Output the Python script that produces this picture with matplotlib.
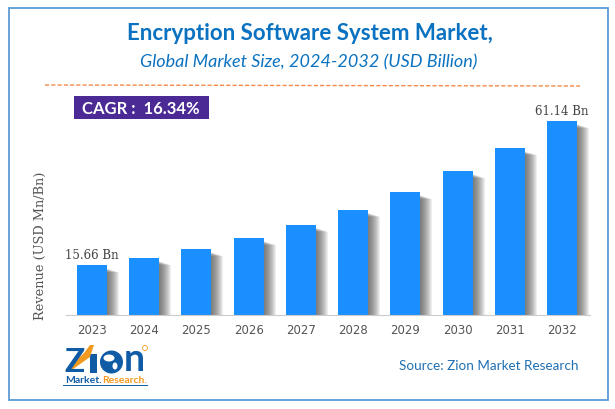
import matplotlib
matplotlib.use('Agg')
import matplotlib.pyplot as plt
from matplotlib.patches import Rectangle, Circle, Polygon, Ellipse

years = ['2023', '2024', '2025', '2026', '2027', '2028', '2029', '2030', '2031', '2032']
revenue = [15.66, 18.0, 20.8, 24.3, 28.5, 33.2, 38.8, 45.4, 52.6, 61.14]
first_label = '15.66 Bn'
last_label = '61.14 Bn'

fig = plt.figure(figsize=(6.15, 4.10), dpi=100)

# overlay in pixel coords for the frame, titles and logo
bg = fig.add_axes([0, 0, 1, 1])
bg.set_xlim(0, 615)
bg.set_ylim(410, 0)
bg.axis('off')

bg.add_patch(Rectangle((8.5, 8.5), 599.5, 392.5, fill=False, ec='#5b9bd5', lw=1.3))
bg.text(310, 34, 'Encryption Software System Market,', color='#0a72c0', fontsize=16,
        fontweight='bold', family='Lato', ha='center', va='center')
bg.text(309, 62, 'Global Market Size, 2024-2032 (USD Billion)', color='#0a72c0', fontsize=13,
        style='italic', family='Lato', ha='center', va='center')
bg.plot([45, 580], [86, 87], color='#f4894a', lw=1, ls=(0, (3, 1.5)))

bg.add_patch(Rectangle((74, 97), 135, 23, color='#4b2a96', lw=0))
bg.text(141, 108.5, 'CAGR :  16.34%', color='white', fontsize=12, fontweight='bold',
        family='Lato', ha='center', va='center')

bg.text(489, 366, 'Source: Zion Market Research', color='#1f6fb2', fontsize=9.7,
        family='Lato', ha='center', va='center')

# logo
logo_blue = '#0f5ba6'
logo_orange = '#f29a1f'
bg.text(64, 363, 'Z', color=logo_blue, fontsize=24, fontweight='bold', family='Lato',
        ha='left', va='center')
bg.add_patch(Rectangle((90, 355), 7, 19, color=logo_blue, lw=0))
bg.add_patch(Circle((111.5, 363), 11.5, color=logo_blue, lw=0))
bg.add_patch(Ellipse((109, 359), 11, 7, color='white', lw=0))
bg.add_patch(Ellipse((115, 367), 5, 7, color='white', lw=0))
bg.text(124, 360, 'n', color=logo_blue, fontsize=27, fontweight='bold', family='Lato',
        ha='left', va='center')
bg.add_patch(Polygon([[65, 372], [84, 354], [90, 346], [94, 346], [90, 358], [69, 373]],
                     color=logo_orange, lw=0))
bg.add_patch(Circle((145, 349), 2.5, fill=False, ec=logo_orange, lw=0.6))
bg.text(65, 381, 'Market.', color=logo_blue, fontsize=7.5, fontweight='bold', family='Lato',
        ha='left', va='center')
bg.text(102, 381, 'Research.', color=logo_orange, fontsize=7.5, fontweight='bold', family='Lato',
        ha='left', va='center')
bg.plot([63, 147], [386, 386], color=logo_blue, lw=0.7)

ax = fig.add_axes([66 / 615, 94 / 410, 524 / 615, 215 / 410])
ax.patch.set_alpha(0)
x = list(range(len(years)))
bar_w = 0.575

# soft shadow on the right side of each bar, built from fading layers
shadow_w = 0.23
n_layers = 12
for k in range(n_layers):
    frac = (k + 1) / n_layers
    ax.bar([i + bar_w / 2 + shadow_w * frac / 2 for i in x],
           [v - 1.0 - 1.2 * frac for v in revenue], width=shadow_w * frac,
           color='#444444', alpha=0.085, lw=0, zorder=1)

ax.bar(x, revenue, width=bar_w, color='#1a8fff', lw=0, zorder=2)

ax.set_xlim(-0.498, 9.537)
ax.set_ylim(0, 67.76)
ax.set_xticks(x)
ax.set_xticklabels(years, color='#555555', fontsize=8.5)
ax.set_yticks([])
ax.tick_params(axis='x', length=0, pad=6)
for s in ['top', 'left', 'right']:
    ax.spines[s].set_visible(False)
ax.spines['bottom'].set_color('#cccccc')

ax.text(0, revenue[0] + 1.3, first_label, family='DejaVu Serif', fontsize=8.5, color='#444444',
        ha='center', va='bottom')
ax.text(9, revenue[-1] + 1.3, last_label, family='DejaVu Serif', fontsize=8.5, color='#444444',
        ha='center', va='bottom')

bg.text(40, 246, 'Revenue (USD Mn/Bn)', family='DejaVu Serif', fontsize=9.3, color='#555555',
        rotation=90, ha='center', va='center')

fig.savefig('out.png', dpi=100)
